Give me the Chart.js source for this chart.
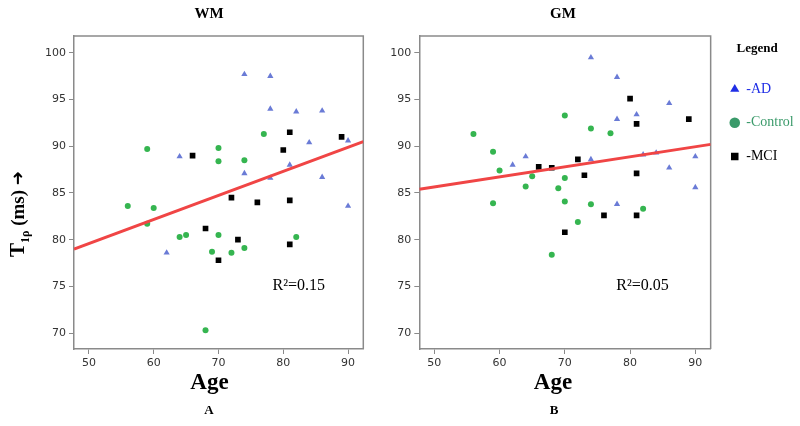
<!DOCTYPE html>
<html>
<head>
<meta charset="utf-8">
<script src="https://cdn.jsdelivr.net/npm/chart.js@4"></script>
<style>
  html, body { margin: 0; padding: 0; background: #fff; overflow: hidden; }
  #wrap { position: relative; width: 800px; height: 426px; overflow: hidden; }
  #wmChart { position: absolute; left: 0; top: 0; }
  #gmChart { position: absolute; left: 380px; top: 0; }
</style>
</head>
<body>
<div id="wrap">
  <canvas id="wmChart" width="390" height="426"></canvas>
  <canvas id="gmChart" width="430" height="426"></canvas>
</div>
<script>
// ages, the same subjects in both panels
const adAge = [62, 64, 74, 74, 78, 78, 78, 81, 82, 84, 86, 86, 90, 90];
const controlAge = [56, 59, 59, 60, 64, 65, 68, 69, 70, 70, 70, 72, 74, 74, 77, 82];
const mciAge = [66, 68, 70, 72, 73, 76, 80, 81, 81, 81, 89];

// T1rho (ms) in white matter
const adWM = [78.6, 88.9, 97.7, 87.1, 97.5, 94.0, 86.6, 88.0, 93.7, 90.4, 93.8, 86.7, 90.6, 83.6];
const controlWM = [83.6, 89.7, 81.7, 83.4, 80.3, 80.5, 70.3, 78.7, 89.8, 88.4, 80.5, 78.6, 88.5, 79.1, 91.3, 80.3];
const mciWM = [89.0, 81.2, 77.8, 84.5, 80.0, 84.0, 89.6, 91.5, 84.2, 79.5, 91.0];

// T1rho (ms) in gray matter
const adGM = [88.0, 88.9, 99.5, 88.6, 97.4, 92.9, 83.8, 93.4, 89.1, 89.3, 94.6, 87.7, 88.9, 85.6];
const controlGM = [91.3, 89.4, 83.9, 87.4, 85.7, 86.8, 78.4, 85.5, 93.3, 86.6, 84.1, 81.9, 91.9, 83.8, 91.4, 83.3];
const mciGM = [87.8, 87.7, 80.8, 88.6, 86.9, 82.6, 95.1, 92.4, 87.1, 82.6, 92.9];

// fit line end points
const fitAge = [47.7, 92.35];
const fitWM = [79.0, 90.5];
const fitGM = [85.4, 90.2];

const groupNames = ["AD", "Control", "MCI"];
const rSquared = ["R²=0.15", "R²=0.05"];
const panelTitles = ["WM", "GM"];
const panelLetters = ["A", "B"];
const xTitle = "Age";
const xTicks = [50, 60, 70, 80, 90];
const yTicks = [70, 75, 80, 85, 90, 95, 100];

const SERIF = "'Liberation Serif', 'Times New Roman', serif";
const SANS = "'DejaVu Sans', sans-serif";
const AXIS_GRAY = "#8a8a8a";
const pointColors = ["#6a7bd6", "#35b550", "#000000"];
const legendColors = ["#1f2ee6", "#3a9a6a", "#000000"];
const pointStyles = ["triangle", "circle", "rect"];
const pointSizes = [3.6, 3, 4];

const pairs = (xs, ys) => xs.map((x, i) => ({ x: x, y: ys[i] }));

// top and right sides of the plot box
const frame = {
  id: "frame",
  beforeDatasetsDraw(chart) {
    const { ctx, chartArea: a } = chart;
    ctx.save();
    ctx.strokeStyle = AXIS_GRAY;
    ctx.lineWidth = 1.5;
    ctx.beginPath();
    ctx.moveTo(a.left, a.top);
    ctx.lineTo(a.right, a.top);
    ctx.lineTo(a.right, a.bottom);
    ctx.stroke();
    ctx.restore();
  }
};

// free text drawn on the canvas (titles, axis titles, R²)
function textPlugin(cfg) {
  return {
    id: "panelText",
    afterDraw(chart) {
      const ctx = chart.ctx;
      cfg.items.forEach(it => {
        ctx.save();
        ctx.font = it.font;
        ctx.fillStyle = "#000";
        ctx.textAlign = "center";
        ctx.textBaseline = "middle";
        let x = it.x, y = it.y;
        if (it.at) {
          x = chart.scales.x.getPixelForValue(it.at[0]);
          y = chart.scales.y.getPixelForValue(it.at[1]);
        }
        ctx.fillText(it.text, x, y);
        ctx.restore();
      });
      if (cfg.yTitle) {
        // T1ρ (ms) →, rotated
        ctx.save();
        ctx.translate(cfg.yTitle.x, cfg.yTitle.y);
        ctx.rotate(-Math.PI / 2);
        ctx.fillStyle = "#000";
        ctx.textAlign = "left";
        ctx.textBaseline = "alphabetic";
        const parts = [
          { t: "T", f: "bold 21px " + SERIF, dy: 0 },
          { t: "1ρ", f: "bold 12px " + SERIF, dy: 5 },
          { t: " (ms) ", f: "bold 19px " + SERIF, dy: 0 },
          { t: "➜", f: "bold 17px 'DejaVu Sans', sans-serif", dy: -1 }
        ];
        let total = 0;
        parts.forEach(p => { ctx.font = p.f; total += ctx.measureText(p.t).width; });
        let cx = -total / 2;
        parts.forEach(p => {
          ctx.font = p.f;
          ctx.fillText(p.t, cx, 7 + p.dy);
          cx += ctx.measureText(p.t).width;
        });
        ctx.restore();
      }
    }
  };
}

function makePanel(canvasId, values, fitValues, cfg) {
  const datasets = groupNames.map((name, g) => ({
    label: name,
    data: pairs([adAge, controlAge, mciAge][g], values[g]),
    pointStyle: pointStyles[g],
    pointRadius: pointSizes[g],
    pointBackgroundColor: pointColors[g],
    pointBorderWidth: 0,
    backgroundColor: legendColors[g],
    borderColor: legendColors[g]
  }));
  datasets.push({
    label: "fit",
    data: pairs(fitAge, fitValues),
    showLine: true,
    pointRadius: 0,
    borderColor: "#f04545",
    borderWidth: 3,
    order: -1
  });

  return new Chart(document.getElementById(canvasId), {
    type: "scatter",
    data: { datasets: datasets },
    plugins: [frame, textPlugin(cfg.text)],
    options: {
      responsive: false,
      animation: false,
      layout: { padding: { top: 36, bottom: 0, left: 0, right: cfg.padRight } },
      scales: {
        x: {
          type: "linear",
          position: "bottom",
          min: 47.7,
          max: 92.35,
          afterBuildTicks: s => { s.ticks = xTicks.map(v => ({ value: v })); },
          afterFit: s => { s.height = 77; },
          ticks: { padding: 3, color: "#333", font: { family: SANS, size: 11 } },
          grid: { display: true, drawOnChartArea: false, drawTicks: true, tickLength: 5, color: AXIS_GRAY },
          border: { display: true, color: AXIS_GRAY, width: 1.5 }
        },
        y: {
          type: "linear",
          position: "left",
          min: 68.3,
          max: 101.8,
          afterBuildTicks: s => { s.ticks = yTicks.map(v => ({ value: v })); },
          afterFit: s => { s.width = cfg.yWidth; },
          ticks: { padding: 3, color: "#333", font: { family: SANS, size: 11 } },
          grid: { display: true, drawOnChartArea: false, drawTicks: true, tickLength: 5, color: AXIS_GRAY },
          border: { display: true, color: AXIS_GRAY, width: 1.5 }
        }
      },
      plugins: {
        tooltip: { enabled: false },
        legend: {
          display: cfg.legend,
          position: "right",
          align: "start",
          title: {
            display: true,
            text: "Legend",
            color: "#000",
            font: { family: SERIF, size: 13, weight: "bold" },
            padding: { top: 6, bottom: 5 }
          },
          labels: {
            usePointStyle: true,
            boxWidth: 9,
            boxHeight: 7.5,
            padding: 19.6,
            font: { family: SERIF, size: 14 },
            filter: item => item.datasetIndex < 3,
            generateLabels: chart => {
              const items = Chart.defaults.plugins.legend.labels.generateLabels(chart);
              return items.map(item => {
                const c = legendColors[item.datasetIndex];
                if (c) {
                  item.fillStyle = c;
                  item.strokeStyle = c;
                  item.fontColor = c;
                  item.lineWidth = 0;
                  item.text = "-" + item.text;
                }
                return item;
              });
            }
          }
        }
      }
    }
  });
}

// WM panel
makePanel("wmChart", [adWM, controlWM, mciWM], fitWM, {
  yWidth: 74,
  padRight: 26.7,
  legend: false,
  text: {
    items: [
      { text: panelTitles[0], x: 209, y: 14, font: "bold 15px " + SERIF },
      { text: xTitle, x: 209.5, y: 383, font: "bold 23px " + SERIF },
      { text: panelLetters[0], x: 209, y: 411, font: "bold 13px " + SERIF },
      { text: rSquared[0], at: [82.4, 75.1], font: "16px " + SERIF }
    ],
    yTitle: { x: 17, y: 214 }
  }
});

// GM panel (with legend)
makePanel("gmChart", [adGM, controlGM, mciGM], fitGM, {
  yWidth: 39.3,
  padRight: 6.3,
  legend: true,
  text: {
    items: [
      { text: panelTitles[1], x: 183, y: 14, font: "bold 15px " + SERIF },
      { text: xTitle, x: 173, y: 383, font: "bold 23px " + SERIF },
      { text: panelLetters[1], x: 174, y: 411, font: "bold 13px " + SERIF },
      { text: rSquared[1], at: [81.9, 75.1], font: "16px " + SERIF }
    ]
  }
});
</script>
</body>
</html>
